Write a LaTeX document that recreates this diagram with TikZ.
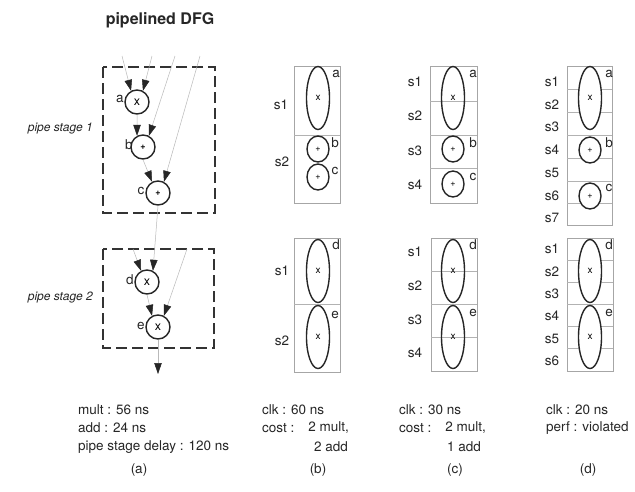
\documentclass[tikz,border=0pt]{standalone}
\usepackage{fontspec}
\setmainfont{TeX Gyre Heros}
\usetikzlibrary{arrows.meta,shapes.geometric}
\begin{document}
\begin{tikzpicture}[x=1pt,y=-1pt,
  txt/.style={inner sep=0pt,font=\fontsize{13.5}{15}\selectfont,text=black!85},
  dfgnode/.style={circle,draw=black!85,line width=1.4pt,minimum size=24pt,inner sep=0pt,font=\fontsize{12.5}{12}\selectfont},
  dfgadd/.style={dfgnode,font=\fontsize{9}{9}\selectfont\bfseries},
  inp/.style={draw=gray!55,line width=0.5pt,-{Triangle[length=11pt,width=7.5pt,color=black!85]}},
  stagebox/.style={draw=black!80,line width=1.6pt,dash pattern=on 11pt off 5pt},
  slotbox/.style={draw=gray!70,line width=0.5pt},
  divline/.style={draw=gray!60,line width=0.5pt},
  opell/.style={ellipse,draw=black!85,line width=1.4pt,inner sep=0pt,minimum width=23pt,minimum height=63pt,font=\fontsize{10}{10}\selectfont},
  opcirc/.style={ellipse,draw=black!85,line width=1.4pt,inner sep=0pt,minimum width=22pt,minimum height=26pt,font=\fontsize{9}{9}\selectfont},
  wfill/.style={fill=white},
  lab/.style={inner sep=0pt,font=\fontsize{13.5}{14}\selectfont,text=black!85},
]
\useasboundingbox[fill=white] (0,0) rectangle (635,491);

% ---------- (a) pipelined DFG ----------
\node[inner sep=0pt,font=\fontsize{16}{17}\selectfont\bfseries,text=black!85] (title) at (160,20) {pipelined DFG};

\draw[stagebox] (103,67) rectangle (215,213);
\draw[stagebox] (103,249) rectangle (214,348);
\node[lab,anchor=east,font=\fontsize{12}{13}\selectfont\itshape] (ps1) at (93,129) {pipe stage 1};
\node[lab,anchor=east,font=\fontsize{12}{13}\selectfont\itshape] (ps2) at (93,298) {pipe stage 2};

\node[dfgnode] (na) at (137,102) {x};
\node[dfgadd]  (nb) at (143,147) {+};
\node[dfgadd]  (nc) at (158,193) {+};
\node[dfgnode] (nd) at (147,282) {x};
\node[dfgnode] (ne) at (158,327) {x};

\node[lab] (la) at (120,99) {a};
\node[lab] (lb) at (129,145) {b};
\node[lab] (lc) at (141,191) {c};
\node[lab] (ld) at (130,280) {d};
\node[lab] (le) at (141,326) {e};

\coordinate (ia1) at (122,56);
\coordinate (ia2) at (152,56);
\coordinate (ib2) at (175,56);
\coordinate (ic2) at (200,56);
\coordinate (id1) at (133,249);
\coordinate (ie2) at (187,249);
\coordinate (out) at (158,374);

\draw[inp] (ia1) -- (na.118);
\draw[inp] (ia2) -- (na.62);
\draw[inp] (na.south) -- (nb.118);
\draw[inp] (ib2) -- (nb.62);
\draw[inp] (nb.south) -- (nc.118);
\draw[inp] (ic2) -- (nc.62);
\draw[inp] (id1) -- (nd.118);
\draw[inp] (nc.south) -- (nd.62);
\draw[inp] (nd.south) -- (ne.118);
\draw[inp] (ie2) -- (ne.62);
\draw[inp] (ne.south) -- (out);

\node[txt,anchor=west] (ta1) at (78,410) {mult : 56 ns};
\node[txt,anchor=west] (ta2) at (78,428) {add : 24 ns};
\node[txt,anchor=west] (ta3) at (78,447) {pipe stage delay : 120 ns};
\node[txt] (capa) at (139,470) {(a)};

% ---------- (b) ----------
\draw[slotbox] (294,66) rectangle (340,203);
\draw[divline] (294,135) -- (340,135);
\node[opell]  (b-a) at (318,98) {x};
\node[opcirc] (b-b) at (318,149) {+};
\node[opcirc] (b-c) at (318,177) {+};
\node[lab] (b-la) at (336,74) {a};
\node[lab] (b-lb) at (335,143) {b};
\node[lab] (b-lc) at (335,171) {c};
\node[lab] (b-s1) at (281,105) {s1};
\node[lab] (b-s2) at (282,162) {s2};

\draw[slotbox] (294,238) rectangle (340,372);
\draw[divline] (294,304) -- (340,304);
\node[opell] (b-d) at (318,271) {x};
\node[opell] (b-e) at (318,337) {x};
\node[lab] (b-ld) at (336,245) {d};
\node[lab] (b-le) at (335,315) {e};
\node[lab] (b-s3) at (282,271) {s1};
\node[lab] (b-s4) at (282,341) {s2};

\node[txt,anchor=west] (tb1) at (262,410) {clk : 60 ns};
\node[txt,anchor=west] (tb2) at (262,428) {cost :};
\node[txt,anchor=east] (tb3) at (349,428) {2 mult,};
\node[txt,anchor=east] (tb4) at (348,447) {2 add};
\node[txt] (capb) at (318,470) {(b)};

% ---------- (c) ----------
\draw[slotbox] (430,66) rectangle (477,203);
\foreach \yy in {101,135,168} \draw[divline] (430,\yy) -- (477,\yy);
\node[opell]  (c-a) at (453,98) {x};
\node[opcirc] (c-b) at (453,149) {+};
\node[opcirc] (c-c) at (453,184) {+};
\node[lab] (c-la) at (473,74) {a};
\node[lab] (c-lb) at (473,143) {b};
\node[lab] (c-lc) at (473,177) {c};
\node[lab] (c-s1) at (415,82) {s1};
\node[lab] (c-s2) at (415,116) {s2};
\node[lab] (c-s3) at (415,151) {s3};
\node[lab] (c-s4) at (415,185) {s4};

\draw[slotbox] (431,238) rectangle (477,371);
\foreach \yy in {271,304,337} \draw[divline] (431,\yy) -- (477,\yy);
\node[opell] (c-d) at (453,271) {x};
\node[opell] (c-e) at (453,337) {x};
\node[lab] (c-ld) at (473,245) {d};
\node[lab] (c-le) at (473,313) {e};
\node[lab] (c-s5) at (415,252) {s1};
\node[lab] (c-s6) at (415,286) {s2};
\node[lab] (c-s7) at (415,320) {s3};
\node[lab] (c-s8) at (415,353) {s4};

\node[txt,anchor=west] (tc1) at (399,410) {clk : 30 ns};
\node[txt,anchor=west] (tc2) at (399,428) {cost :};
\node[txt,anchor=east] (tc3) at (486,428) {2 mult,};
\node[txt,anchor=east] (tc4) at (481,447) {1 add};
\node[txt] (capc) at (455,470) {(c)};

% ---------- (d) ----------
\draw[slotbox] (567,66) rectangle (612,225);
\foreach \yy in {89,112,135,158,181,203} \draw[divline] (567,\yy) -- (612,\yy);
\node[opell,wfill]  (d-a) at (590,98) {x};
\node[opcirc,wfill] (d-b) at (590,150) {+};
\node[opcirc,wfill] (d-c) at (590,196) {+};
\node[lab] (d-la) at (609,74) {a};
\node[lab] (d-lb) at (609,143) {b};
\node[lab] (d-lc) at (609,188) {c};
\node[lab] (d-s1) at (552,82) {s1};
\node[lab] (d-s2) at (552,105) {s2};
\node[lab] (d-s3) at (552,127) {s3};
\node[lab] (d-s4) at (552,150) {s4};
\node[lab] (d-s5) at (552,173) {s5};
\node[lab] (d-s6) at (552,196) {s6};
\node[lab] (d-s7) at (552,218) {s7};

\draw[slotbox] (567,238) rectangle (613,371);
\foreach \yy in {260,282,304,326,348} \draw[divline] (567,\yy) -- (613,\yy);
\node[opell,wfill] (d-d) at (590,271) {x};
\node[opell,wfill] (d-e) at (590,337) {x};
\node[lab] (d-ld) at (609,245) {d};
\node[lab] (d-le) at (609,313) {e};
\node[lab] (d-t1) at (552,249) {s1};
\node[lab] (d-t2) at (552,272) {s2};
\node[lab] (d-t3) at (552,294) {s3};
\node[lab] (d-t4) at (552,316) {s4};
\node[lab] (d-t5) at (552,339) {s5};
\node[lab] (d-t6) at (552,361) {s6};

\node[txt,anchor=west] (td1) at (546,410) {clk : 20 ns};
\node[txt,anchor=west] (td2) at (546,428) {perf : violated};
\node[txt] (capd) at (588,470) {(d)};
\end{tikzpicture}
\end{document}
